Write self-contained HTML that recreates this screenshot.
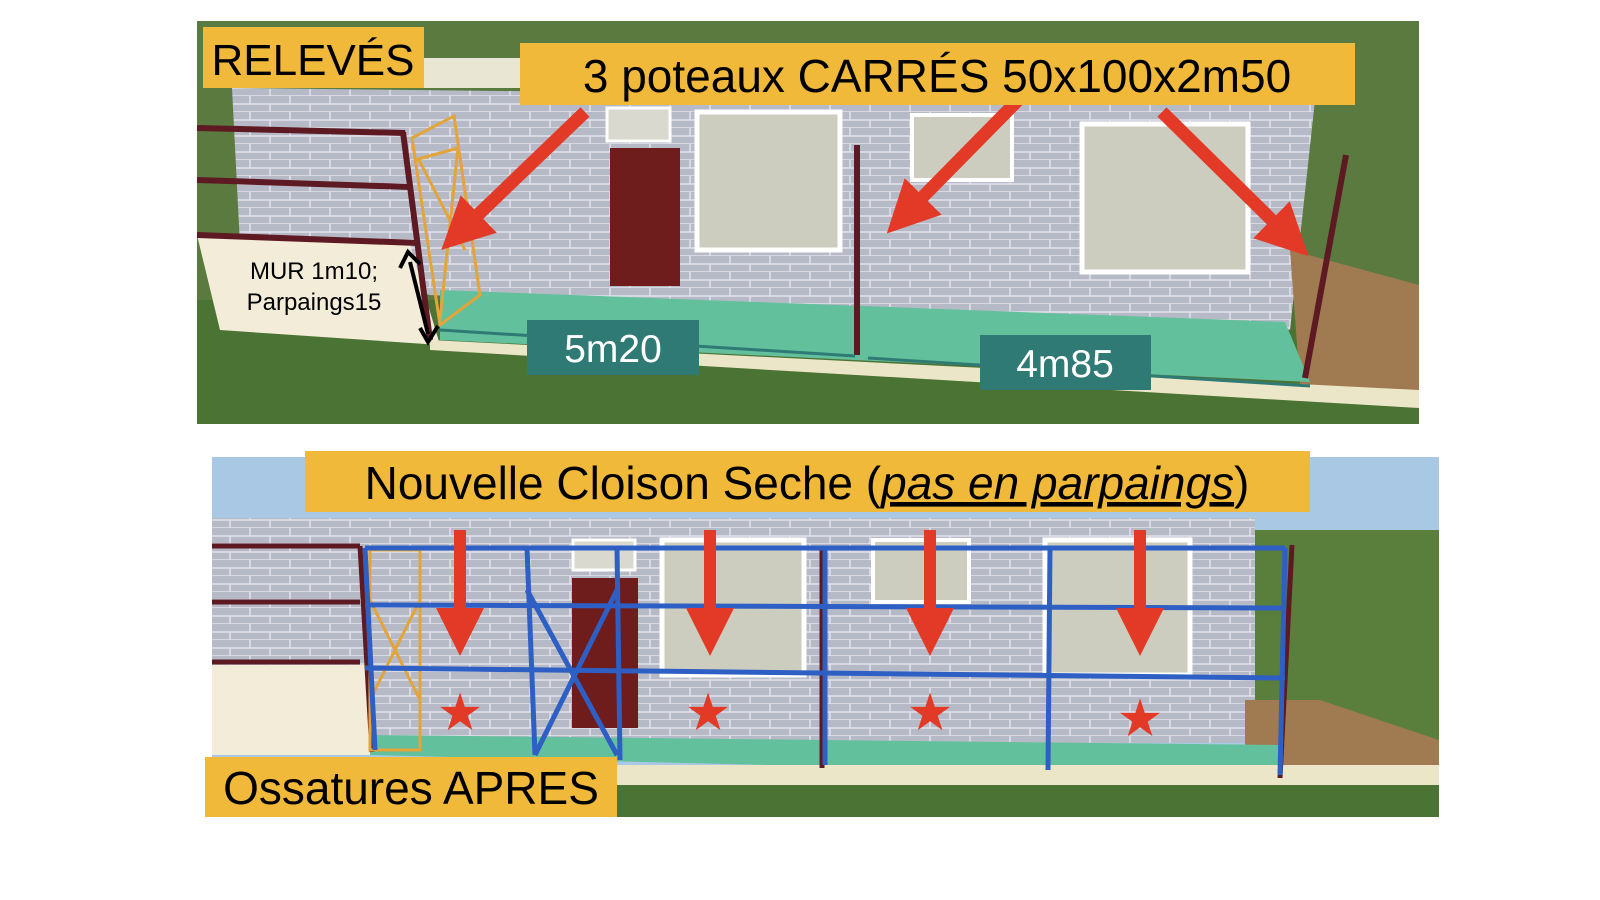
<!DOCTYPE html>
<html><head><meta charset="utf-8"><style>
html,body{margin:0;padding:0;background:#fff;width:1600px;height:900px;overflow:hidden}
svg{display:block}
text{font-family:"Liberation Sans",sans-serif}
</style></head><body>
<svg width="1600" height="900" viewBox="0 0 1600 900">
<defs>
<pattern id="brick" width="40" height="16" patternUnits="userSpaceOnUse">
<rect width="40" height="16" fill="#b6b9c6"/>
<path d="M0 8H40M0 16H40M10 0V8M30 8V16" stroke="#e2e3ea" stroke-width="1.5"/>
</pattern>
<marker id="ah" markerWidth="4" markerHeight="4" refX="2" refY="2" orient="auto" markerUnits="strokeWidth"><path d="M0 0L4 2L0 4z" fill="#e33a28"/></marker>
</defs>
<!-- TOP PANEL -->
<rect x="197" y="21" width="1222" height="403" fill="#5a7a40"/>
<rect x="197" y="300" width="1222" height="124" fill="#4b7333"/>
<rect x="420" y="58" width="110" height="30" fill="#e9e6d3"/>
<polygon points="232,88 1315,100 1290,330 430,295 240,245" fill="url(#brick)"/>
<polygon points="1290,250 1419,285 1419,392 1300,385" fill="#a07a50"/>
<polygon points="197,235 410,245 440,345 220,330" fill="#f2ecd8"/>
<polygon points="440,290 1285,322 1310,382 440,340" fill="#62c09d"/>
<polygon points="430,340 1419,390 1419,408 430,350" fill="#ece6c8"/>
<rect x="607" y="108" width="63" height="33" fill="#d9d9cf" stroke="#fff" stroke-width="3"/>
<rect x="610" y="148" width="70" height="138" fill="#6e1c1c"/>
<rect x="697" y="112" width="143" height="138" fill="#cdcdbf" stroke="#fff" stroke-width="5"/>
<rect x="912" y="115" width="100" height="65" fill="#cdcdbf" stroke="#fff" stroke-width="4"/>
<rect x="1082" y="124" width="166" height="148" fill="#cdcdbf" stroke="#fff" stroke-width="5"/>
<g stroke="#5e1a22" stroke-width="6">
<line x1="197" y1="128" x2="405" y2="133"/><line x1="197" y1="180" x2="410" y2="187"/><line x1="197" y1="235" x2="418" y2="243"/>
<line x1="403" y1="132" x2="430" y2="340"/>
<line x1="857" y1="145" x2="857" y2="355"/>
<line x1="1346" y1="155" x2="1305" y2="378"/>
</g>
<g stroke="#e3a43a" stroke-width="3" fill="none">
<polygon points="412,138 454,116 480,295 440,325"/>
<line x1="415" y1="160" x2="458" y2="148"/><line x1="418" y1="158" x2="465" y2="250"/><line x1="458" y1="148" x2="440" y2="320"/>
</g>
<g stroke="#e33a28" stroke-width="13" marker-end="url(#ah)">
<line x1="585" y1="112" x2="460" y2="232"/>
<line x1="1030" y1="88" x2="905" y2="215"/>
<line x1="1162" y1="112" x2="1290" y2="238"/>
</g>
<g stroke="#000" stroke-width="4"><line x1="410" y1="262" x2="428" y2="334"/></g>
<path d="M400 268L408 252L420 264M420 328L428 342L438 326" stroke="#000" stroke-width="4" fill="none"/>
<g stroke="#2f7a74" stroke-width="3"><line x1="440" y1="330" x2="855" y2="356"/><line x1="868" y1="358" x2="1310" y2="386"/></g>
<rect x="203" y="27" width="221" height="61" fill="#f0b93a"/>
<text x="313" y="75" font-size="44" text-anchor="middle">RELEVÉS</text>
<rect x="520" y="43" width="835" height="62" fill="#f0b93a"/>
<text x="937" y="92" font-size="46" text-anchor="middle">3 poteaux CARRÉS 50x100x2m50</text>
<text x="314" y="279" font-size="24" text-anchor="middle">MUR 1m10;</text>
<text x="314" y="310" font-size="24" text-anchor="middle">Parpaings15</text>
<rect x="527" y="320" width="172" height="55" fill="#2f7a74"/>
<text x="613" y="362" font-size="39" fill="#fff" text-anchor="middle">5m20</text>
<rect x="980" y="335" width="171" height="55" fill="#2f7a74"/>
<text x="1065" y="377" font-size="39" fill="#fff" text-anchor="middle">4m85</text>

<!-- BOTTOM PANEL -->
<rect x="212" y="457" width="1227" height="360" fill="#a9c8e3"/>
<rect x="1255" y="530" width="184" height="230" fill="#5a7f3c"/>
<rect x="212" y="518" width="1043" height="225" fill="url(#brick)"/>
<rect x="212" y="665" width="160" height="90" fill="#f2ecd8"/>
<polygon points="1245,700 1320,700 1439,740 1439,765 1245,765" fill="#a07a50"/>
<polygon points="370,735 1280,745 1280,778 370,755" fill="#62c09d"/>
<rect x="212" y="765" width="1227" height="35" fill="#ece6c8"/>
<rect x="212" y="785" width="1227" height="32" fill="#4b7333"/>
<rect x="573" y="540" width="62" height="30" fill="#d9d9cf" stroke="#fff" stroke-width="3"/>
<rect x="572" y="578" width="66" height="150" fill="#6e1c1c"/>
<rect x="662" y="540" width="142" height="135" fill="#cdcdbf" stroke="#fff" stroke-width="5"/>
<rect x="873" y="540" width="96" height="62" fill="#cdcdbf" stroke="#fff" stroke-width="4"/>
<rect x="1045" y="540" width="145" height="135" fill="#cdcdbf" stroke="#fff" stroke-width="5"/>
<g stroke="#5e1a22" stroke-width="5">
<line x1="212" y1="546" x2="360" y2="546"/><line x1="212" y1="602" x2="360" y2="602"/><line x1="212" y1="662" x2="360" y2="662"/>
<line x1="360" y1="546" x2="372" y2="752"/><line x1="822" y1="548" x2="822" y2="768"/><line x1="1292" y1="545" x2="1280" y2="778"/>
</g>
<g stroke="#e3a43a" stroke-width="3" fill="none"><rect x="370" y="550" width="50" height="200"/><line x1="370" y1="600" x2="420" y2="700"/><line x1="420" y1="600" x2="370" y2="700"/></g>
<g stroke="#2e5fc4" stroke-width="5" fill="none">
<line x1="365" y1="548" x2="1285" y2="548"/><line x1="365" y1="605" x2="1285" y2="608"/><line x1="365" y1="668" x2="1285" y2="678"/>
<line x1="365" y1="548" x2="375" y2="750"/><line x1="527" y1="548" x2="535" y2="755"/><line x1="617" y1="548" x2="620" y2="760"/>
<line x1="825" y1="548" x2="825" y2="765"/><line x1="1050" y1="548" x2="1048" y2="770"/><line x1="1285" y1="548" x2="1280" y2="775"/>
<line x1="527" y1="590" x2="617" y2="755"/><line x1="617" y1="590" x2="535" y2="755"/>
</g>
<g stroke="#e33a28" stroke-width="12" marker-end="url(#ah)">
<line x1="460" y1="530" x2="460" y2="632"/><line x1="710" y1="530" x2="710" y2="632"/>
<line x1="930" y1="530" x2="930" y2="632"/><line x1="1140" y1="530" x2="1140" y2="632"/>
</g>
<g fill="#e33a28" font-size="52" text-anchor="middle">
<text x="460" y="730">★</text><text x="708" y="730">★</text><text x="930" y="730">★</text><text x="1140" y="736">★</text>
</g>
<rect x="305" y="451" width="1005" height="61" fill="#f0b93a"/>
<text x="807" y="499" font-size="46" text-anchor="middle">Nouvelle Cloison Seche (<tspan font-style="italic" text-decoration="underline">pas en parpaings</tspan>)</text>
<rect x="205" y="757" width="412" height="60" fill="#f0b93a"/>
<text x="411" y="804" font-size="46" text-anchor="middle">Ossatures APRES</text>
</svg>
</body></html>
